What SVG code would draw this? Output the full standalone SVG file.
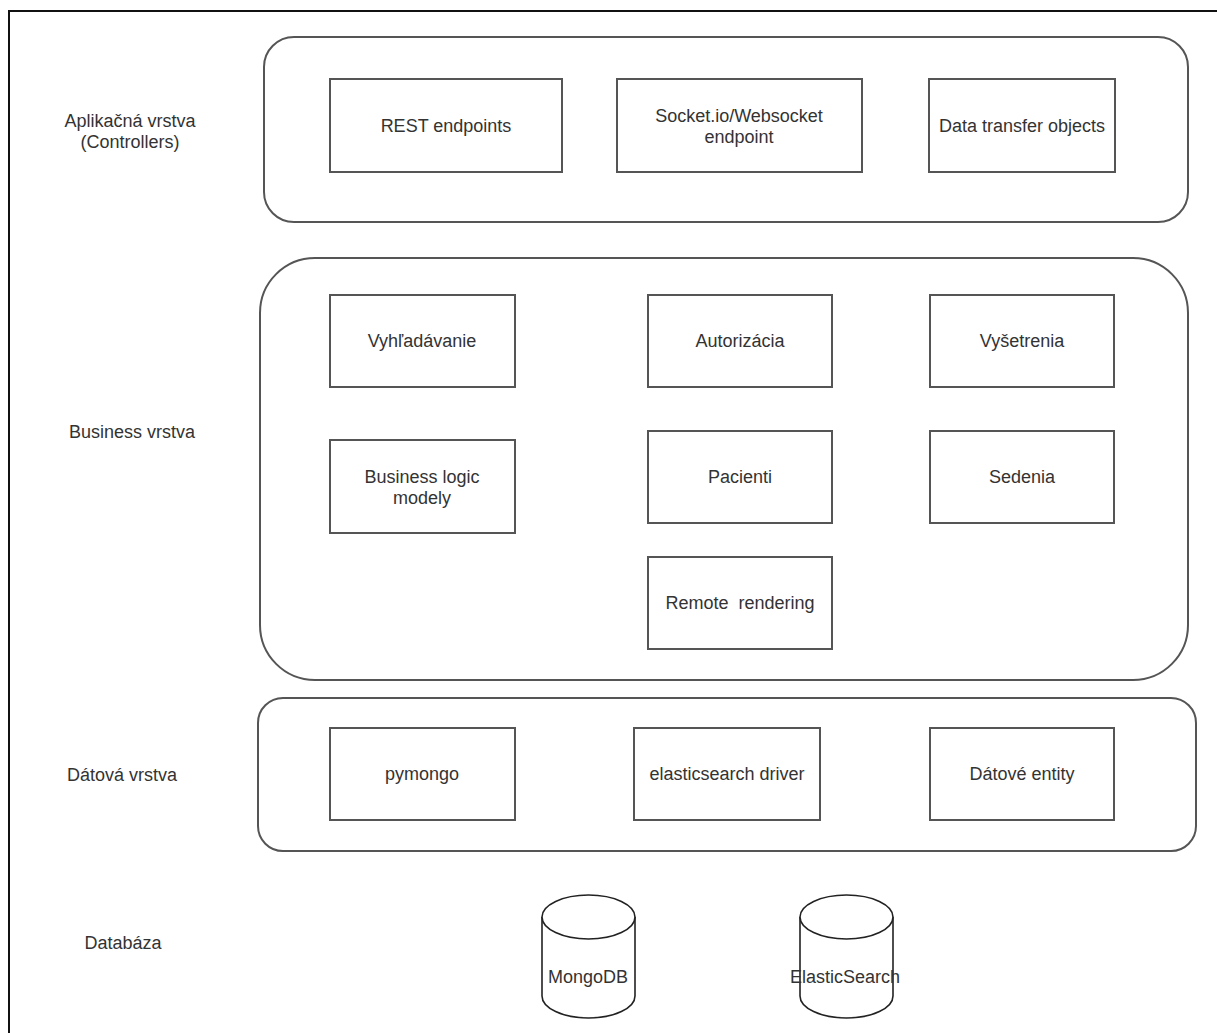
<svg xmlns="http://www.w3.org/2000/svg" width="1217" height="1033" viewBox="0 0 1217 1033">
<style>
.bg{fill:#ffffff}
.frame{fill:none;stroke:#111;stroke-width:2}
.layer{fill:#ffffff;stroke:#555;stroke-width:2}
.box{fill:#ffffff;stroke:#555;stroke-width:2}
.cyl{fill:#ffffff;stroke:#222;stroke-width:1.6}
text{font-family:"Liberation Sans",Arial,sans-serif;font-size:18px;fill:#333;text-anchor:middle}
</style>
<rect class="bg" x="0" y="0" width="1217" height="1033"/>
<path class="frame" d="M9,1033 V11 H1217"/>
<g id="labels">
<text x="130" y="127">Aplikačná vrstva</text>
<text x="130" y="148">(Controllers)</text>
<text x="132" y="438">Business vrstva</text>
<text x="122" y="781">Dátová vrstva</text>
<text x="123" y="949">Databáza</text>
</g>
<g id="layer-app"><rect class="layer" x="264" y="37" width="924" height="185" rx="30"/></g>
<g id="layer-business"><rect class="layer" x="260" y="258" width="928" height="422" rx="55"/></g>
<g id="layer-data"><rect class="layer" x="258" y="698" width="938" height="153" rx="25"/></g>
<g id="rest"><rect class="box" x="330" y="79" width="232" height="93"/><text x="446" y="132">REST endpoints</text></g>
<g id="socket"><rect class="box" x="617" y="79" width="245" height="93"/><text x="739" y="122">Socket.io/Websocket</text><text x="739" y="143">endpoint</text></g>
<g id="dto"><rect class="box" x="929" y="79" width="186" height="93"/><text x="1022" y="132">Data transfer objects</text></g>
<g id="vyhladavanie"><rect class="box" x="330" y="295" width="185" height="92"/><text x="422" y="347">Vyhľadávanie</text></g>
<g id="autorizacia"><rect class="box" x="648" y="295" width="184" height="92"/><text x="740" y="347">Autorizácia</text></g>
<g id="vysetrenia"><rect class="box" x="930" y="295" width="184" height="92"/><text x="1022" y="347">Vyšetrenia</text></g>
<g id="blm"><rect class="box" x="330" y="440" width="185" height="93"/><text x="422" y="483">Business logic</text><text x="422" y="504">modely</text></g>
<g id="pacienti"><rect class="box" x="648" y="431" width="184" height="92"/><text x="740" y="483">Pacienti</text></g>
<g id="sedenia"><rect class="box" x="930" y="431" width="184" height="92"/><text x="1022" y="483">Sedenia</text></g>
<g id="remote"><rect class="box" x="648" y="557" width="184" height="92"/><text x="740" y="609">Remote&#160; rendering</text></g>
<g id="pymongo"><rect class="box" x="330" y="728" width="185" height="92"/><text x="422" y="780">pymongo</text></g>
<g id="esdriver"><rect class="box" x="634" y="728" width="186" height="92"/><text x="727" y="780">elasticsearch driver</text></g>
<g id="entity"><rect class="box" x="930" y="728" width="184" height="92"/><text x="1022" y="780">Dátové entity</text></g>
<g id="mongodb">
<path class="cyl" d="M542,917 A46.5,22 0 0 1 635,917 V996 A46.5,22 0 0 1 542,996 Z"/>
<path class="cyl" d="M542,917 A46.5,22 0 0 0 635,917"/>
<text x="588" y="983">MongoDB</text>
</g>
<g id="elasticsearch">
<path class="cyl" d="M800,917 A46.5,22 0 0 1 893,917 V996 A46.5,22 0 0 1 800,996 Z"/>
<path class="cyl" d="M800,917 A46.5,22 0 0 0 893,917"/>
<text x="845" y="983">ElasticSearch</text>
</g>
<g id="connectors"></g>
</svg>
